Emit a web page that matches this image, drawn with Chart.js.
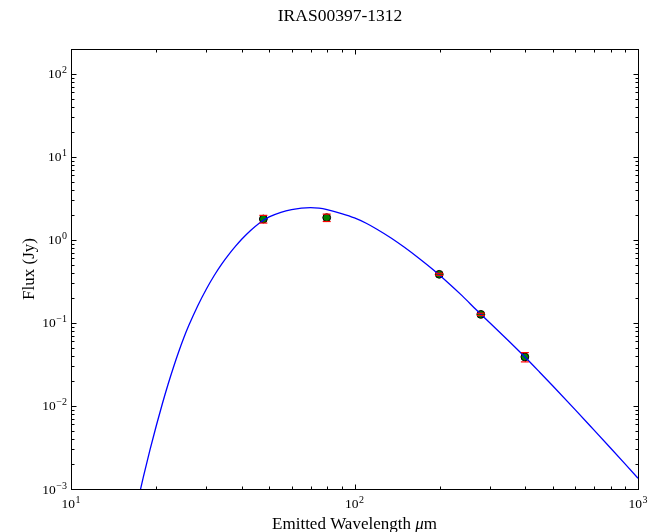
<!DOCTYPE html>
<html>
<head>
<meta charset="utf-8">
<script src="https://cdn.jsdelivr.net/npm/chart.js@4/dist/chart.umd.min.js"></script>
<style>
  html, body { margin: 0; padding: 0; background: #ffffff; }
  #wrap { width: 665px; height: 532px; }
</style>
</head>
<body>
<div id="wrap"><canvas id="sed" width="665" height="532"></canvas></div>
<script>
// Source name and axis titles
const chartTitle = 'IRAS00397-1312';
const xTitleText = 'Emitted Wavelength ';
const xTitleUnit = 'm';
const yTitleText = 'Flux (Jy)';

// Photometry (rest-frame wavelength in micron, flux and 1-sigma error in Jy)
const obsWavelength = [47.7, 79.8, 199, 279, 399];
const obsFlux = [1.79, 1.86, 0.386, 0.127, 0.039];
const obsFluxErr = [0.19, 0.19, 0.011, 0.004, 0.005];

// Greybody fit, sampled along the curve
const fitWavelength = [17.0, 17.5, 18, 19, 20, 21, 22, 23, 24, 25, 26, 28, 30, 32, 34, 36, 38, 40, 43, 46, 50, 55, 60, 65, 70, 75, 80, 90, 100, 110, 120, 135, 150, 170, 190, 210, 240, 270, 300, 350, 400, 450, 500, 600, 700, 800, 900, 1000, 1050];
const fitFlux = [0.000595, 0.000921, 0.001398, 0.002974, 0.00582, 0.01065, 0.01831, 0.02955, 0.04535, 0.0663, 0.0924, 0.1616, 0.2553, 0.3737, 0.5127, 0.6663, 0.8362, 1.021, 1.302, 1.584, 1.896, 2.154, 2.327, 2.426, 2.457, 2.416, 2.321, 2.084, 1.848, 1.592, 1.349, 1.050, 0.816, 0.5904, 0.4352, 0.3237, 0.2123, 0.1421, 0.1008, 0.0606, 0.03861, 0.02552, 0.01752, 0.00905, 0.00512, 0.003118, 0.002005, 0.001346, 0.001118];

// Axis ranges and decade ticks (exponents of ten)
const xRange = [10, 1000];
const yRange = [0.001, 200];
const xTickExps = [1, 2, 3];
const yTickExps = [-3, -2, -1, 0, 1, 2];

const serif = "'Liberation Serif', 'DejaVu Serif', serif";

function zip(xs, ys) { return xs.map((x, i) => ({ x: x, y: ys[i] })); }

// Minor tick values (2..9 x 10^k) inside a range
function minorValues(lo, hi) {
  const out = [];
  for (let k = Math.floor(Math.log10(lo)); k <= Math.ceil(Math.log10(hi)); k++) {
    for (let m = 2; m <= 9; m++) {
      const v = m * Math.pow(10, k);
      if (v > lo * 1.0001 && v < hi * 0.9999) out.push(v);
    }
  }
  return out;
}

// "10" with a raised exponent, TeX style
function powerLabel(ctx, x, y, exp, align) {
  const base = '10';
  const sup = exp < 0 ? '\u2212' + Math.abs(exp) : String(exp);
  ctx.font = '13.5px ' + serif;
  const wb = ctx.measureText(base).width;
  ctx.font = '10px ' + serif;
  const ws = ctx.measureText(sup).width;
  const total = wb + ws + 0.5;
  let left = x;
  if (align === 'center') left = x - total / 2;
  else if (align === 'right') left = x - total;
  ctx.textAlign = 'left';
  ctx.textBaseline = 'alphabetic';
  ctx.font = '13.5px ' + serif;
  ctx.fillText(base, left, y);
  ctx.font = '10px ' + serif;
  ctx.fillText(sup, left + wb + 0.5, y - 5);
}

const axesDecor = {
  id: 'axesDecor',
  // vertical error bars go under the markers
  beforeDatasetDraw(chart, args) {
    if (args.index !== 1) return;
    const { ctx, scales: { x, y } } = chart;
    ctx.save();
    ctx.strokeStyle = '#ff0000';
    ctx.lineWidth = 1;
    obsWavelength.forEach((w, i) => {
      const px = Math.round(x.getPixelForValue(w)) + 0.5;
      ctx.beginPath();
      ctx.moveTo(px, y.getPixelForValue(obsFlux[i] + obsFluxErr[i]));
      ctx.lineTo(px, y.getPixelForValue(obsFlux[i] - obsFluxErr[i]));
      ctx.stroke();
    });
    ctx.restore();
  },
  afterDatasetsDraw(chart) {
    const { ctx, chartArea: a, scales: { x, y } } = chart;
    ctx.save();
    // error bar caps on top of the markers
    ctx.strokeStyle = '#ff0000';
    ctx.lineWidth = 1.2;
    obsWavelength.forEach((w, i) => {
      const px = x.getPixelForValue(w);
      [obsFlux[i] + obsFluxErr[i], obsFlux[i] - obsFluxErr[i]].forEach(v => {
        const py = y.getPixelForValue(v);
        ctx.beginPath();
        ctx.moveTo(px - 4, py);
        ctx.lineTo(px + 4, py);
        ctx.stroke();
      });
    });

    // frame
    ctx.strokeStyle = '#000000';
    ctx.lineWidth = 1;
    const L = Math.round(a.left) + 0.5, R = Math.round(a.right) + 0.5;
    const T = Math.round(a.top) + 0.5, B = Math.round(a.bottom) + 0.5;
    ctx.strokeRect(L, T, R - L, B - T);

    // inward ticks on all four sides
    const majLen = 5, minLen = 3;
    ctx.beginPath();
    xTickExps.map(e => Math.pow(10, e)).forEach(v => {
      const px = Math.round(x.getPixelForValue(v)) + 0.5;
      ctx.moveTo(px, B); ctx.lineTo(px, B - majLen);
      ctx.moveTo(px, T); ctx.lineTo(px, T + majLen);
    });
    minorValues(xRange[0], xRange[1]).forEach(v => {
      const px = Math.round(x.getPixelForValue(v)) + 0.5;
      ctx.moveTo(px, B); ctx.lineTo(px, B - minLen);
      ctx.moveTo(px, T); ctx.lineTo(px, T + minLen);
    });
    yTickExps.map(e => Math.pow(10, e)).forEach(v => {
      const py = Math.round(y.getPixelForValue(v)) + 0.5;
      ctx.moveTo(L, py); ctx.lineTo(L + majLen, py);
      ctx.moveTo(R, py); ctx.lineTo(R - majLen, py);
    });
    minorValues(yRange[0], yRange[1]).forEach(v => {
      const py = Math.round(y.getPixelForValue(v)) + 0.5;
      ctx.moveTo(L, py); ctx.lineTo(L + minLen, py);
      ctx.moveTo(R, py); ctx.lineTo(R - minLen, py);
    });
    ctx.stroke();

    // tick labels
    ctx.fillStyle = '#000000';
    xTickExps.forEach(e => {
      powerLabel(ctx, x.getPixelForValue(Math.pow(10, e)), a.bottom + 19, e, 'center');
    });
    yTickExps.forEach(e => {
      powerLabel(ctx, a.left - 4, y.getPixelForValue(Math.pow(10, e)) + 4.5, e, 'right');
    });

    // title
    ctx.font = '17.5px ' + serif;
    ctx.textAlign = 'center';
    ctx.textBaseline = 'alphabetic';
    ctx.fillText(chartTitle, 340, 21);

    // x axis title with italic mu
    ctx.font = '17px ' + serif;
    const w1 = ctx.measureText(xTitleText).width;
    ctx.font = 'italic 17px ' + serif;
    const wmu = ctx.measureText('\u03bc').width;
    ctx.font = '17px ' + serif;
    const w2 = ctx.measureText(xTitleUnit).width;
    const sx = (a.left + a.right) / 2 - (w1 + wmu + w2) / 2;
    ctx.textAlign = 'left';
    ctx.fillText(xTitleText, sx, 529);
    ctx.font = 'italic 17px ' + serif;
    ctx.fillText('\u03bc', sx + w1, 529);
    ctx.font = '17px ' + serif;
    ctx.fillText(xTitleUnit, sx + w1 + wmu, 529);

    // y axis title
    ctx.translate(30, (a.top + a.bottom) / 2);
    ctx.rotate(-Math.PI / 2);
    ctx.textAlign = 'center';
    ctx.textBaseline = 'middle';
    ctx.font = '17px ' + serif;
    ctx.fillText(yTitleText, 0, 0);
    ctx.restore();
  }
};

new Chart(document.getElementById('sed'), {
  type: 'scatter',
  data: {
    datasets: [
      {
        label: 'fit',
        data: zip(fitWavelength, fitFlux),
        showLine: true,
        borderColor: '#0000ff',
        borderWidth: 1.3,
        pointRadius: 0,
        cubicInterpolationMode: 'monotone',
        fill: false
      },
      {
        label: 'photometry',
        data: zip(obsWavelength, obsFlux),
        showLine: false,
        pointRadius: 3.9,
        pointBackgroundColor: '#008000',
        pointBorderColor: '#000000',
        pointBorderWidth: 1
      }
    ]
  },
  options: {
    responsive: false,
    devicePixelRatio: 1,
    animation: false,
    layout: { padding: { left: 71, right: 27, top: 49, bottom: 43 } },
    plugins: { legend: { display: false }, tooltip: { enabled: false }, title: { display: false } },
    scales: {
      x: { type: 'logarithmic', min: xRange[0], max: xRange[1], display: false },
      y: { type: 'logarithmic', min: yRange[0], max: yRange[1], display: false }
    }
  },
  plugins: [axesDecor]
});
</script>
</body>
</html>
